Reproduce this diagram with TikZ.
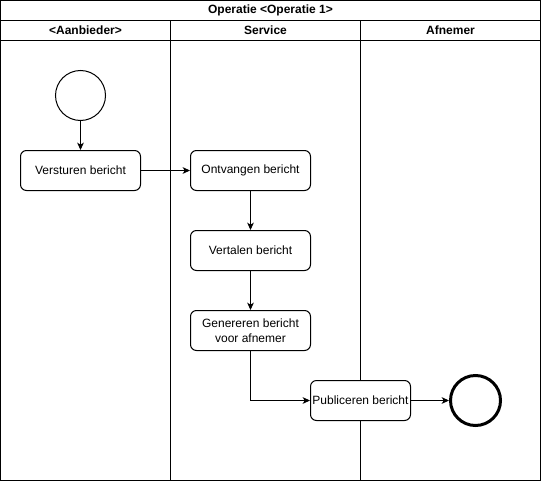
\documentclass[tikz,border=0pt]{standalone}
\usepackage{fontspec}
\setmainfont{Liberation Sans}
\usetikzlibrary{arrows.meta, positioning}

\tikzset{
  stap/.style={draw, fill=white, rounded corners=4.5pt, minimum width=90pt, minimum height=30pt, inner sep=1pt, align=center},
  startpunt/.style={draw, fill=white, circle, minimum size=37.5pt, inner sep=0pt},
  eindpunt/.style={draw, fill=white, circle, line width=2.25pt, minimum size=37.5pt, inner sep=0pt},
  kop/.style={font=\fontsize{9}{10.5}\selectfont\bfseries},
  pijl/.style={-{Stealth[length=5.5pt, width=5pt, inset=1.5pt]}}
}

\begin{document}
\begin{tikzpicture}[x=0.75pt, y=-0.75pt, line width=0.75pt, font=\fontsize{9}{11.25}\selectfont]
            \useasboundingbox (-0.5,-0.5) rectangle (540.5,480.5);

            % pool and lanes
            \draw (0,0) rectangle (540,480);
            \draw (0,20) -- (540,20);
            \draw (0,40) -- (540,40);
            \draw (170,20) -- (170,480);
            \draw (360,20) -- (360,480);
            \node[kop] (titel) at (270,10) {Operatie <Operatie 1>};
            \node[kop] (aanbieder) at (85,30) {<Aanbieder>};
            \node[kop] (service) at (265,30) {Service};
            \node[kop] (afnemer) at (450,30) {Afnemer};

            % activities
            \node[startpunt] (start) at (80,95) {};
            \node[stap] (versturen) at (80,170) {Versturen bericht};
            \node[stap] (ontvangen) at (250,170) {Ontvangen bericht};
            \node[stap] (vertalen) at (250,250) {Vertalen bericht};
            \node[stap] (genereren) at (250,330) {Genereren bericht\\voor afnemer};
            \node[stap, minimum width=75pt] (publiceren) at (360,400) {Publiceren bericht};
            \node[eindpunt] (eind) at (475,400) {};

            % flow
            \draw[pijl] (start) -- (versturen);
            \draw[pijl] (versturen) -- (ontvangen);
            \draw[pijl] (ontvangen) -- (vertalen);
            \draw[pijl] (vertalen) -- (genereren);
            \draw[pijl] (genereren) |- (publiceren);
            \draw[pijl] (publiceren) -- (eind);
        \end{tikzpicture}
\end{document}
